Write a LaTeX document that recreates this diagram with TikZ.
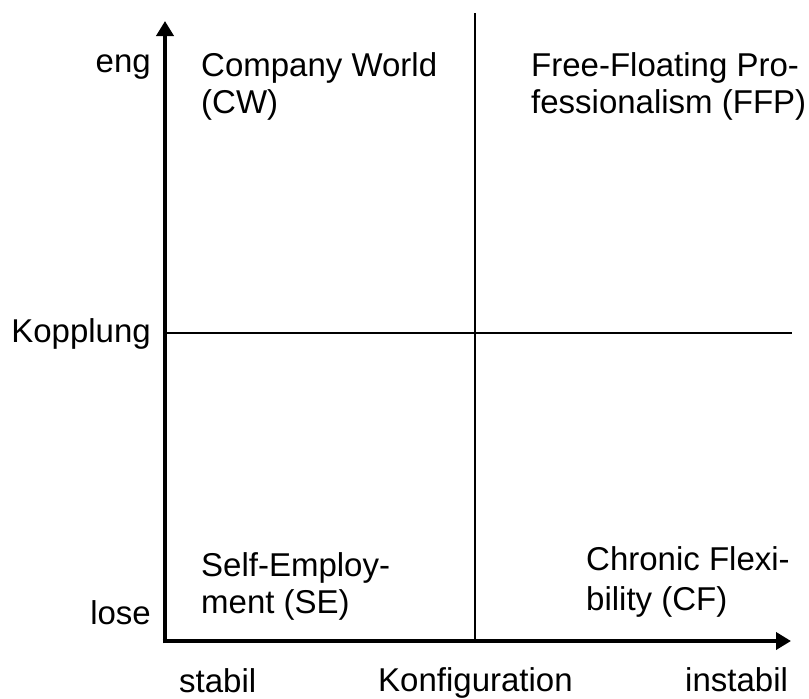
\documentclass[tikz,border=0pt]{standalone}
\usepackage{fontspec}
\setmainfont{Liberation Sans}
\usetikzlibrary{arrows.meta}
\begin{document}
\begin{tikzpicture}[x=1pt,y=-1pt,
  lbl/.style={inner sep=0pt,font=\fontsize{33}{37}\selectfont},
  axis/.style={line width=4.8pt,-{Triangle[length=15pt,width=17pt]}},
  divider/.style={line width=2.3pt}]
\useasboundingbox (0,0) rectangle (809,699);

% axes
\coordinate (O) at (165,641);
\coordinate (ytip) at (165,21);
\coordinate (xtip) at (791,641);
\draw[axis] ([yshift=-2.4pt]O) -- (ytip);
\draw[axis] ([xshift=-2.4pt]O) -- (xtip);

% quadrant dividers
\coordinate (vtop) at (475,13);
\coordinate (vbot) at (475,641);
\coordinate (hleft) at (165,333);
\coordinate (hright) at (792,333);
\draw[divider] (vtop) -- (vbot);
\draw[divider] (hleft) -- (hright);

% vertical axis labels
\node[lbl,anchor=base east] (eng) at (151,72) {eng};
\node[lbl,anchor=base east] (kopplung) at (151,342) {Kopplung};
\node[lbl,anchor=base east] (lose) at (151,624) {lose};

% horizontal axis labels
\node[lbl,anchor=base west] (stabil) at (179,692) {stabil};
\node[lbl,anchor=base west] (konfig) at (378,691) {Konfiguration};
\node[lbl,anchor=base west] (instabil) at (685,691) {instabil};

% quadrant labels
\node[lbl,anchor=base west] (cw1) at (201,76) {Company World};
\node[lbl,anchor=base west] (cw2) at (201,113) {(CW)};
\node[lbl,anchor=base west] (ffp1) at (531,76) {Free-Floating Pro-};
\node[lbl,anchor=base west] (ffp2) at (531,113) {fessionalism (FFP)};
\node[lbl,anchor=base west] (se1) at (201,576) {Self-Employ-};
\node[lbl,anchor=base west] (se2) at (201,613) {ment (SE)};
\node[lbl,anchor=base west] (cf1) at (586,570) {Chronic Flexi-};
\node[lbl,anchor=base west] (cf2) at (586,610) {bility (CF)};
\end{tikzpicture}
\end{document}
